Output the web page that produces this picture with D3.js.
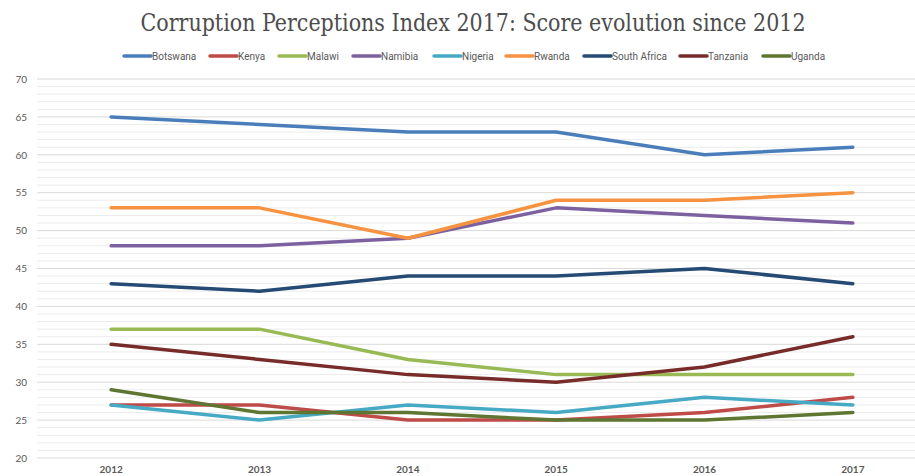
<!DOCTYPE html>
<html>
<head>
<meta charset="utf-8">
<script src="https://cdn.jsdelivr.net/npm/d3@7"></script>
<style>
  body { margin: 0; background: #fff; }
  svg { display: block; }
</style>
</head>
<body>
<div id="chart"></div>
<script>
const years = ["2012", "2013", "2014", "2015", "2016", "2017"];
const countries = ["Botswana", "Kenya", "Malawi", "Namibia", "Nigeria", "Rwanda", "South Africa", "Tanzania", "Uganda"];
const colors = ["#4a7ebb", "#be4b48", "#98b954", "#7d60a0", "#46aac5", "#f69240", "#254a74", "#772c2a", "#5e7631"];

const botswana = [65, 64, 63, 63, 60, 61];
const kenya = [27, 27, 25, 25, 26, 28];
const malawi = [37, 37, 33, 31, 31, 31];
const namibia = [48, 48, 49, 53, 52, 51];
const nigeria = [27, 25, 27, 26, 28, 27];
const rwanda = [53, 53, 49, 54, 54, 55];
const southAfrica = [43, 42, 44, 44, 45, 43];
const tanzania = [35, 33, 31, 30, 32, 36];
const uganda = [29, 26, 26, 25, 25, 26];

const yTicks = [20, 25, 30, 35, 40, 45, 50, 55, 60, 65, 70];

const series = [botswana, kenya, malawi, namibia, nigeria, rwanda, southAfrica, tanzania, uganda]
  .map((values, i) => ({ name: countries[i], color: colors[i], values: values }));

const width = 915;
const height = 476;

const svg = d3.select("#chart")
  .append("svg")
  .attr("width", width)
  .attr("height", height);

const x = d3.scaleBand()
  .domain(years)
  .range([37, 927]);

const y = d3.scaleLinear()
  .domain([20, 70])
  .range([458, 79]);

// minor gridlines every unit, major every 5
svg.append("g")
  .selectAll("line")
  .data(d3.range(20, 71, 1).filter(v => v % 5 !== 0))
  .enter()
  .append("line")
  .attr("x1", 37)
  .attr("x2", width)
  .attr("y1", d => y(d))
  .attr("y2", d => y(d))
  .attr("stroke", "#ececec")
  .attr("stroke-width", 1);

svg.append("g")
  .selectAll("line")
  .data(yTicks)
  .enter()
  .append("line")
  .attr("x1", 37)
  .attr("x2", width)
  .attr("y1", d => y(d))
  .attr("y2", d => y(d))
  .attr("stroke", "#d9d9d9")
  .attr("stroke-width", 1);

const yAxis = svg.append("g")
  .attr("transform", "translate(33,0)")
  .call(d3.axisLeft(y).tickValues(yTicks).tickSize(0).tickPadding(6));
yAxis.select(".domain").remove();
yAxis.selectAll("text")
  .attr("fill", "#595959")
  .style("font", "10px Lato, 'Open Sans', sans-serif");

const xAxis = svg.append("g")
  .attr("transform", "translate(0,462)")
  .call(d3.axisBottom(x).tickSize(0).tickPadding(4));
xAxis.select(".domain").remove();
xAxis.selectAll("text")
  .attr("fill", "#595959")
  .style("font", "bold 10px Lato, 'Open Sans', sans-serif");

const line = d3.line()
  .x((d, i) => x(years[i]) + x.bandwidth() / 2)
  .y(d => y(d));

svg.append("g")
  .selectAll("path")
  .data(series)
  .enter()
  .append("path")
  .attr("d", d => line(d.values))
  .attr("fill", "none")
  .attr("stroke", d => d.color)
  .attr("stroke-width", 3.5)
  .attr("stroke-linejoin", "round")
  .attr("stroke-linecap", "round");

// title
svg.append("text")
  .attr("x", 473)
  .attr("y", 31)
  .attr("text-anchor", "middle")
  .attr("fill", "#4d4d4d")
  .attr("textLength", 665)
  .attr("lengthAdjust", "spacingAndGlyphs")
  .style("font", "25px 'DejaVu Serif Condensed', 'DejaVu Serif', serif")
  .text("Corruption Perceptions Index 2017: Score evolution since 2012");

// legend
const legendX = [124, 210, 279, 353, 434, 506, 584, 680, 763];
const legend = svg.append("g")
  .selectAll("g")
  .data(series)
  .enter()
  .append("g")
  .attr("transform", (d, i) => `translate(${legendX[i]},56)`);

legend.append("line")
  .attr("x1", 0)
  .attr("x2", 27)
  .attr("stroke", d => d.color)
  .attr("stroke-width", 3.5)
  .attr("stroke-linecap", "round");

legend.append("text")
  .attr("x", 28)
  .attr("y", 3.5)
  .attr("fill", "#595959")
  .style("font", "10px 'Liberation Sans Narrow', 'Roboto', sans-serif")
  .text(d => d.name);
</script>
</body>
</html>
